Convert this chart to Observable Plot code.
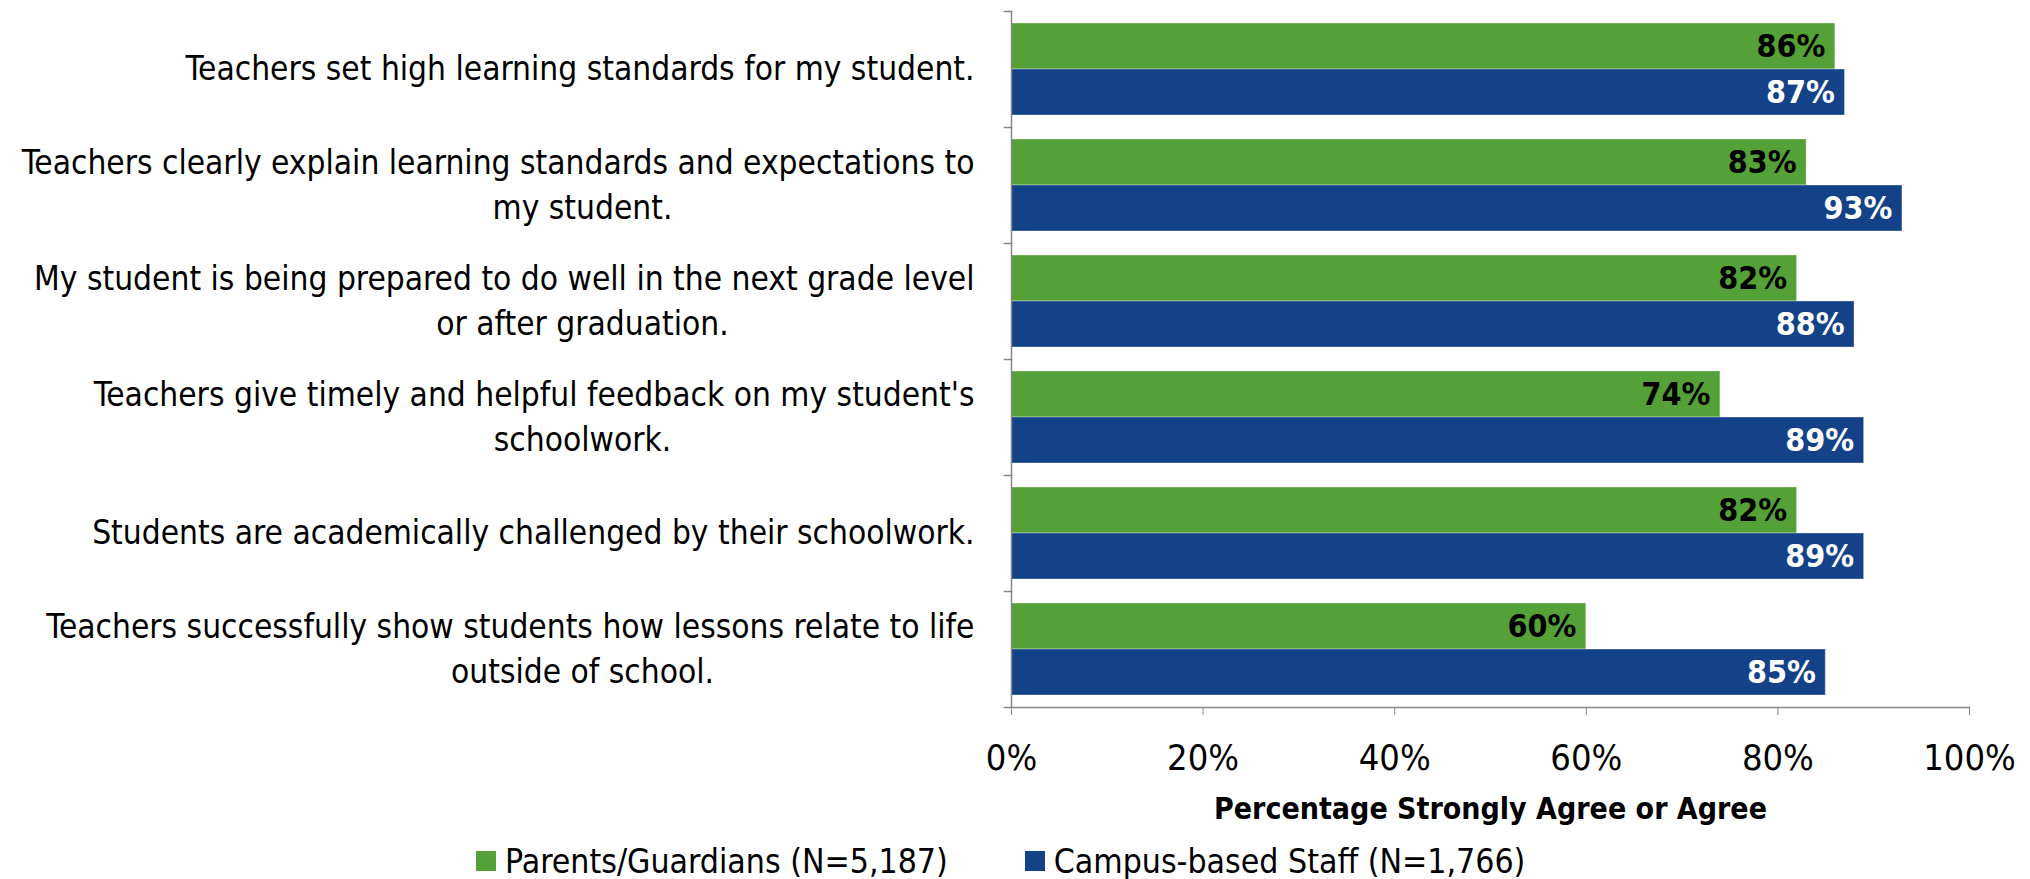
<!DOCTYPE html>
<html>
<head>
<meta charset="utf-8">
<script src="https://cdn.jsdelivr.net/npm/d3@7"></script>
<script src="https://cdn.jsdelivr.net/npm/@observablehq/plot@0.6"></script>
<style>
  html, body { margin: 0; padding: 0; background: #fff; }
  body { width: 2030px; height: 879px; overflow: hidden; font-family: "DejaVu Sans Condensed", "Open Sans", sans-serif; }
  #legend { height: 49px; display: flex; align-items: center; padding-left: 476px; padding-top: 13px; box-sizing: border-box; font-size: 33.5px; color: #000; }
  .item { display: flex; align-items: center; }
  .sw { width: 20px; height: 20px; margin-right: 9px; }
</style>
</head>
<body>
<div id="chart"></div>
<div id="legend"></div>
<script>
const questionLines = [
  ["Teachers set high learning standards for my student."],
  ["Teachers clearly explain learning standards and expectations to", "my student."],
  ["My student is being prepared to do well in the next grade level", "or after graduation."],
  ["Teachers give timely and helpful feedback on my student's", "schoolwork."],
  ["Students are academically challenged by their schoolwork."],
  ["Teachers successfully show students how lessons relate to life", "outside of school."]
];
const seriesNames = ["Parents/Guardians (N=5,187)", "Campus-based Staff (N=1,766)"];
const parentsValues = [86, 83, 82, 74, 82, 60];
const staffValues = [87, 93, 88, 89, 89, 85];
const xTicks = [0, 20, 40, 60, 80, 100];
const axisTitle = "Percentage Strongly Agree or Agree";
const colors = ["#54A137", "#134288"];

const questions = questionLines.map(l => l.join(" "));
const rows = [];
questions.forEach((q, i) => {
  rows.push({q, series: seriesNames[0], value: parentsValues[i]});
  rows.push({q, series: seriesNames[1], value: staffValues[i]});
});
const labelRows = questionLines.map((lines, i) => ({q: questions[i], lines}));

const W = 2030, H = 830, ML = 1011, MR = 61, MT = 10, MB = 123;
const plotW = W - ML - MR;
const gray = "#868686";
const fontFamily = "'DejaVu Sans Condensed', 'Open Sans', sans-serif";
const fsLabel = 33.2, fsTick = 36, fsValue = 32, fsTitle = 30;

const chart = Plot.plot({
  width: W, height: H,
  marginLeft: ML, marginRight: MR, marginTop: MT, marginBottom: MB,
  style: {fontFamily, fontSize: fsTick + "px", color: "#000", background: "#fff", overflow: "visible"},
  x: {domain: [0, 100], axis: null},
  y: {domain: seriesNames, paddingInner: 0, paddingOuter: 0.26, axis: null},
  fy: {domain: questions, padding: 0, axis: null},
  color: {domain: seriesNames, range: colors},
  marks: [
    Plot.barX(rows, {x: "value", y: "series", fy: "q", fill: "series", stroke: "#ffffff", strokeOpacity: 0.35, strokeWidth: 1}),
    Plot.text(rows.filter(d => d.series === seriesNames[0]), {x: "value", y: "series", fy: "q", text: d => d.value + "%", textAnchor: "end", dx: -10, fill: "#000", fontWeight: "bold", fontSize: fsValue}),
    Plot.text(rows.filter(d => d.series === seriesNames[1]), {x: "value", y: "series", fy: "q", text: d => d.value + "%", textAnchor: "end", dx: -10, fill: "#fff", fontWeight: "bold", fontSize: fsValue}),
    Plot.ruleX([0], {stroke: gray, strokeWidth: 1.5}),
    Plot.frame({anchor: "top", stroke: gray, strokeWidth: 1.5, insetLeft: -7, insetRight: plotW}),
    Plot.frame({anchor: "bottom", facetAnchor: "bottom", stroke: gray, strokeWidth: 1.5, insetLeft: -7}),
    Plot.axisX({ticks: xTicks, tickFormat: d => d + "%", tickSize: 8, tickPadding: 29, stroke: gray, fill: "#000", fontSize: fsTick, label: null}),
    Plot.text(labelRows.filter(d => d.lines.length === 1), {fy: "q", text: d => d.lines[0], frameAnchor: "left", textAnchor: "end", dx: -37, fontSize: fsLabel, fill: "#000"}),
    Plot.text(labelRows.filter(d => d.lines.length === 2), {fy: "q", text: d => d.lines[0], frameAnchor: "left", textAnchor: "end", dx: -37, dy: -22.6, fontSize: fsLabel, fill: "#000"}),
    Plot.text(labelRows.filter(d => d.lines.length === 2), {fy: "q", text: d => d.lines[1], frameAnchor: "left", textAnchor: "middle", dx: -429, dy: 22.6, fontSize: fsLabel, fill: "#000"}),
    Plot.text([axisTitle], {fy: [questions[questions.length - 1]], text: d => d, frameAnchor: "bottom", lineAnchor: "middle", dy: 102, fontWeight: "bold", fontSize: fsTitle, fill: "#000"})
  ]
});
document.getElementById("chart").appendChild(chart);

const legend = document.getElementById("legend");
seriesNames.forEach((name, i) => {
  const item = document.createElement("div");
  item.className = "item";
  if (i > 0) item.style.marginLeft = "77px";
  const sw = document.createElement("div");
  sw.className = "sw";
  sw.style.background = colors[i];
  const t = document.createElement("span");
  t.textContent = name;
  item.appendChild(sw);
  item.appendChild(t);
  legend.appendChild(item);
});
</script>
</body>
</html>
